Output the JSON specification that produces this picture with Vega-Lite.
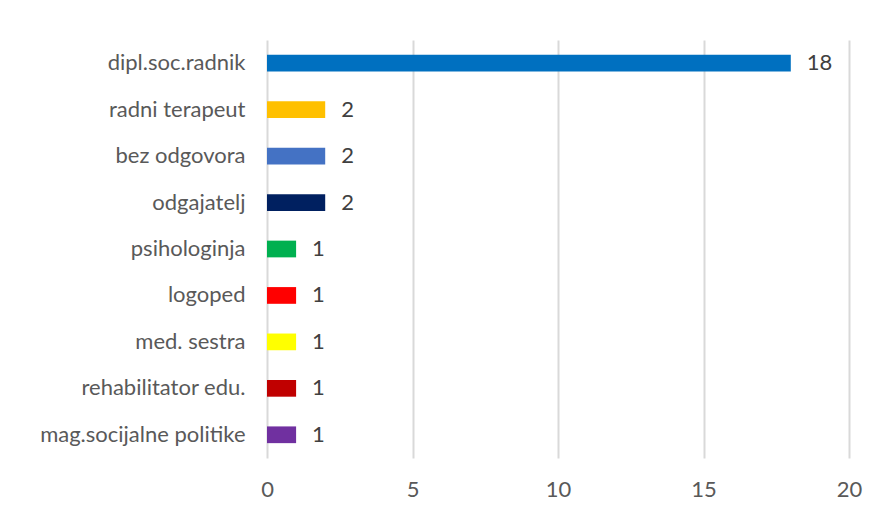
{
  "$schema": "https://vega.github.io/schema/vega-lite/v6.json",
  "width": 582,
  "height": 418,
  "autosize": {"type": "none"},
  "padding": {"left": 267, "top": 40, "right": 28, "bottom": 55},
  "background": "white",
  "config": {"view": {"stroke": null}, "font": "Lato"},
  "data": {
    "values": [
      {"cat": "dipl.soc.radnik", "v": 18, "c": "#0070C0"},
      {"cat": "radni terapeut", "v": 2, "c": "#FFC000"},
      {"cat": "bez odgovora", "v": 2, "c": "#4472C4"},
      {"cat": "odgajatelj", "v": 2, "c": "#002060"},
      {"cat": "psihologinja", "v": 1, "c": "#00B050"},
      {"cat": "logoped", "v": 1, "c": "#FF0000"},
      {"cat": "med. sestra", "v": 1, "c": "#FFFF00"},
      {"cat": "rehabilitator edu.", "v": 1, "c": "#C00000"},
      {"cat": "mag.socijalne politike", "v": 1, "c": "#7030A0"}
    ]
  },
  "encoding": {
    "y": {
      "field": "cat", "type": "nominal", "sort": null,
      "scale": {"paddingInner": 0.64, "paddingOuter": 0.32},
      "axis": {"title": null, "domain": false, "ticks": false, "labelFontSize": 22, "labelColor": "#595959", "labelPadding": 22, "labelFont": "Lato", "labelLimit": 300}
    },
    "x": {
      "field": "v", "type": "quantitative",
      "scale": {"domain": [0, 20], "nice": false},
      "axis": {"title": null, "values": [0, 5, 10, 15, 20], "domain": false, "ticks": false, "grid": true, "gridColor": "#D9D9D9", "gridWidth": 2, "labelFontSize": 22, "labelColor": "#595959", "labelPadding": 21, "labelFlush": false, "labelFont": "Lato"}
    }
  },
  "layer": [
    {"mark": {"type": "bar"}, "encoding": {"color": {"field": "c", "type": "nominal", "scale": null}}},
    {"mark": {"type": "text", "align": "left", "dx": 16, "fontSize": 22, "font": "Lato", "color": "#404040", "baseline": "middle"}, "encoding": {"text": {"field": "v", "type": "quantitative"}}}
  ]
}
